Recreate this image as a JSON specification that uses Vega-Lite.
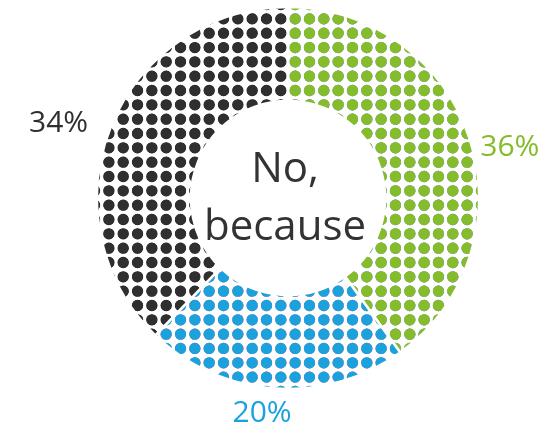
{
  "$schema": "https://vega.github.io/schema/vega-lite/v6.json",
  "width": 512,
  "height": 396,
  "autosize": {"type": "none"},
  "padding": {"left": 32, "top": 0, "right": 0, "bottom": 36},
  "background": "white",
  "view": {"stroke": null, "fill": "white"},
  "datasets": {
    "answers": [
      {"segment": "Green", "rank": 1, "pct": 36, "label": "36%"},
      {"segment": "Blue", "rank": 2, "pct": 20, "label": "20%"},
      {"segment": "Black", "rank": 3, "pct": 34, "label": "34%"}
    ]
  },
  "layer": [
    {
      "data": {"graticule": {"extent": [[-15, -15], [15, 15]], "step": [1, 1]}},
      "projection": {"type": "identity", "scale": 14.33, "translate": [263.165, 205.165]},
      "mark": {"type": "geoshape", "filled": false, "stroke": "#000000", "strokeWidth": 11.3, "strokeDash": [0, 14.33], "strokeCap": "round"},
      "encoding": {}
    },
    {
      "data": {"name": "answers"},
      "mark": {"type": "arc", "radius": 191, "radius2": 97, "stroke": "white", "strokeWidth": 2.5, "blend": "lighten"},
      "encoding": {
        "theta": {"field": "pct", "type": "quantitative", "stack": true},
        "order": {"field": "rank", "type": "quantitative"},
        "color": {"field": "segment", "type": "nominal", "scale": {"domain": ["Green", "Blue", "Black"], "range": ["#84bc2c", "#1ba1dc", "#2f2f2f"]}, "legend": null}
      }
    },
    {
      "data": {"values": [{}]},
      "mark": {"type": "arc", "radius": 420, "radius2": 191, "theta": 0, "theta2": 6.2832, "fill": "white"},
      "encoding": {}
    },
    {
      "data": {"values": [{}]},
      "mark": {"type": "arc", "radius": 97, "radius2": 0, "theta": 0, "theta2": 6.2832, "fill": "white"},
      "encoding": {}
    },
    {
      "data": {"name": "answers"},
      "mark": {
        "type": "text", "radius": 228, "font": "Open Sans", "fontSize": 30, "baseline": "alphabetic", "align": "center",
        "dx": {"expr": "datum.segment == 'Green' ? 5 : datum.segment == 'Blue' ? -10 : -18"},
        "dy": {"expr": "datum.segment == 'Green' ? 28 : datum.segment == 'Blue' ? -3 : 19"}
      },
      "encoding": {
        "theta": {"field": "pct", "type": "quantitative", "stack": true},
        "order": {"field": "rank", "type": "quantitative"},
        "text": {"field": "label", "type": "nominal"},
        "color": {"field": "segment", "type": "nominal", "legend": null}
      }
    },
    {
      "data": {"values": [{"title": "No, because"}]},
      "mark": {"type": "text", "text": ["No,", "because"], "font": "Open Sans", "fontSize": 42, "lineHeight": 57.6, "color": "#333333", "align": "center", "baseline": "alphabetic", "dy": -16, "dx": -3},
      "encoding": {}
    }
  ]
}
